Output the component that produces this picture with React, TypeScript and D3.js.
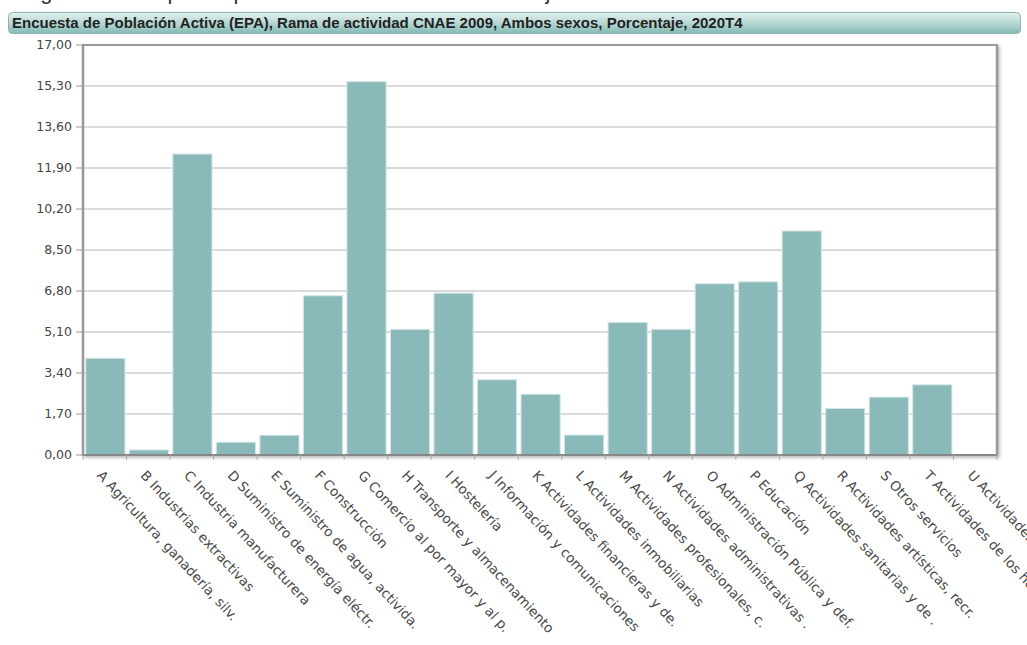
import React from "react";
import * as d3 from "d3";

// Ocupados por rama de actividad (CNAE 2009), ambos sexos, % — 2020T4
const categories: string[] = [
  "A Agricultura, ganadería, silv.",
  "B Industrias extractivas",
  "C Industria manufacturera",
  "D Suministro de energía eléctr.",
  "E Suministro de agua, activida.",
  "F Construcción",
  "G Comercio al por mayor y al p.",
  "H Transporte y almacenamiento",
  "I Hostelería",
  "J Información y comunicaciones",
  "K Actividades financieras y de.",
  "L Actividades inmobiliarias",
  "M Actividades profesionales, c.",
  "N Actividades administrativas .",
  "O Administración Pública y def.",
  "P Educación",
  "Q Actividades sanitarias y de .",
  "R Actividades artísticas, recr.",
  "S Otros servicios",
  "T Actividades de los hogares .",
  "U Actividades de organizaciones",
];

const values: number[] = [
  4.01, 0.21, 12.48, 0.53, 0.82, 6.6, 15.48, 5.21, 6.71, 3.12, 2.52, 0.83,
  5.5, 5.21, 7.1, 7.18, 9.29, 1.93, 2.4, 2.91, 0.01,
];

const yTicks: number[] = [0, 1.7, 3.4, 5.1, 6.8, 8.5, 10.2, 11.9, 13.6, 15.3, 17];

const title =
  "Encuesta de Población Activa (EPA), Rama de actividad CNAE 2009, Ambos sexos, Porcentaje, 2020T4";
const caption = "Figura 1.5 Ocupados por rama de actividad. Porcentaje";

const W = 1027;
const H = 645;
const plot = { left: 83, right: 997, top: 45, bottom: 455 };

const fmt = (v: number) => d3.format(".2f")(v).replace(".", ",");

export default function App() {
  const x = d3
    .scaleBand<string>()
    .domain(categories)
    .range([plot.left, plot.right])
    .paddingInner(0.1)
    .paddingOuter(0.05);
  const step = x.step();
  const bw = x.bandwidth();
  const edge = (c: string) => x(c)! - (step - bw) / 2;
  const y = d3.scaleLinear().domain([0, 17]).range([plot.bottom, plot.top]);
  const tickFont = "'DejaVu Sans', 'Lucida Grande', sans-serif";

  return (
    <svg
      width={W}
      height={H}
      style={{ position: "absolute", left: 0, top: 0, background: "#fff" }}
      fontFamily={tickFont}
    >
      <defs>
        <linearGradient id="titleGrad" x1="0" y1="0" x2="0" y2="1">
          <stop offset="0%" stopColor="#e4f1ef" />
          <stop offset="55%" stopColor="#b2d5d1" />
          <stop offset="100%" stopColor="#84bab4" />
        </linearGradient>
        <filter id="frameShadow" x="-5%" y="-5%" width="110%" height="110%">
          <feDropShadow dx="2" dy="2" stdDeviation="1.5" floodColor="#000" floodOpacity="0.25" />
        </filter>
      </defs>

      {/* figure caption above the panel, mostly out of view */}
      <text x={22} y={-1} fontSize={22} fill="#333" fontFamily="'Liberation Sans', Arial, sans-serif">
        {caption}
      </text>

      {/* title bar */}
      <rect x={8.5} y={12.5} width={1012} height={21} rx={4} fill="url(#titleGrad)" stroke="#8fb3b0" />
      <text
        x={12}
        y={28}
        fontSize={15}
        fontWeight="bold"
        fill="#222"
        fontFamily="'Liberation Sans', Arial, sans-serif"
      >
        {title}
      </text>

      {/* plot frame */}
      <rect
        x={plot.left}
        y={plot.top}
        width={plot.right - plot.left}
        height={plot.bottom - plot.top}
        fill="#fff"
        stroke="#999"
        strokeWidth={2}
        filter="url(#frameShadow)"
      />

      {/* horizontal grid */}
      {yTicks.map((t) => (
        <line
          key={"g" + t}
          x1={plot.left}
          x2={plot.right}
          y1={y(t)}
          y2={y(t)}
          stroke="#cfcfcf"
          strokeWidth={1.5}
        />
      ))}

      {/* bars */}
      {categories.map((c, i) => (
        <rect
          key={c}
          x={x(c)! + 0.6}
          y={y(values[i])}
          width={bw}
          height={y(0) - y(values[i])}
          fill="#8ab9b9"
          stroke="#d4e6e5"
          strokeWidth={1}
        />
      ))}

      {/* axis lines */}
      <line x1={plot.left} x2={plot.left} y1={plot.top} y2={plot.bottom + 1} stroke="#999" strokeWidth={2.5} />
      <line x1={plot.left} x2={plot.right} y1={plot.bottom} y2={plot.bottom} stroke="#888" strokeWidth={2} />
      <line x1={plot.right} x2={plot.right} y1={plot.top} y2={plot.bottom} stroke="#999" strokeWidth={2.5} />
      <line x1={plot.left} x2={plot.right} y1={plot.top} y2={plot.top} stroke="#999" strokeWidth={2} />

      {/* y ticks and labels */}
      {yTicks.map((t) => (
        <g key={"y" + t}>
          <line x1={plot.left - 7} x2={plot.left} y1={y(t)} y2={y(t)} stroke="#999" strokeWidth={1} />
          <text x={plot.left - 11} y={y(t)} dy="0.35em" textAnchor="end" fontSize={12.5} fill="#444">
            {fmt(t)}
          </text>
        </g>
      ))}

      {/* x ticks at band edges */}
      {categories.map((c) => (
        <line
          key={"xt" + c}
          x1={edge(c)}
          x2={edge(c)}
          y1={plot.bottom}
          y2={plot.bottom + 5}
          stroke="#aaa"
          strokeWidth={1}
        />
      ))}
      <line x1={plot.right} x2={plot.right} y1={plot.bottom} y2={plot.bottom + 5} stroke="#aaa" strokeWidth={1} />

      {/* rotated category labels */}
      {categories.map((c) => {
        const cx = x(c)! + bw / 2;
        return (
          <text
            key={"xl" + c}
            transform={`translate(${cx - 8.5},${plot.bottom + 21}) rotate(47)`}
            fontSize={13.5}
            fill="#4a4a4a"
          >
            {c}
          </text>
        );
      })}
    </svg>
  );
}
